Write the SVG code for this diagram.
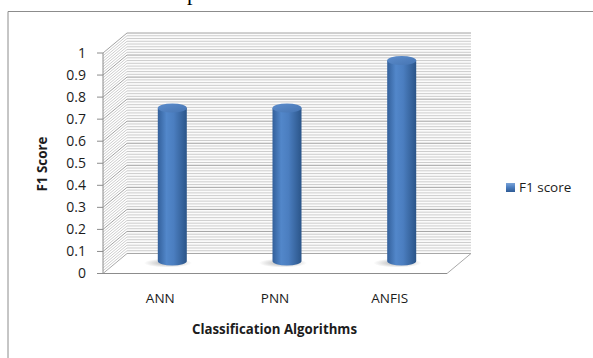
<svg xmlns="http://www.w3.org/2000/svg" width="593" height="358" viewBox="0 0 593 358">
<style>
  .lbl{font-family:"Open Sans","Liberation Sans",sans-serif;font-size:13.5px;fill:#1c1c1c}
  .tick{font-family:"Open Sans","Liberation Sans",sans-serif;font-size:14px;fill:#1c1c1c}
  .ttl{font-family:"Open Sans","Liberation Sans",sans-serif;font-size:13.5px;font-weight:bold;fill:#1c1c1c}
  .minor{fill:none;stroke:#cdcdcd;stroke-width:1}
  .major{fill:none;stroke:#a2a2a2;stroke-width:1}
  .axis{fill:none;stroke:#8c8c8c;stroke-width:1}
</style>
<defs>
  <linearGradient id="body" x1="0" y1="0" x2="1" y2="0">
    <stop offset="0" stop-color="#33609b"/>
    <stop offset="0.3" stop-color="#5287ca"/>
    <stop offset="0.55" stop-color="#4b7ec0"/>
    <stop offset="1" stop-color="#2b5589"/>
  </linearGradient>
  <linearGradient id="cap" x1="0" y1="0" x2="1" y2="1">
    <stop offset="0" stop-color="#5d8dcc"/>
    <stop offset="1" stop-color="#4574b2"/>
  </linearGradient>
  <radialGradient id="shadow" cx="0.5" cy="0.5" r="0.5">
    <stop offset="0" stop-color="#8a8a8a" stop-opacity="0.7"/>
    <stop offset="1" stop-color="#8a8a8a" stop-opacity="0"/>
  </radialGradient>
  <linearGradient id="legendFill" x1="0" y1="0" x2="0" y2="1">
    <stop offset="0" stop-color="#7aa3d8"/>
    <stop offset="0.5" stop-color="#4a7cbe"/>
    <stop offset="1" stop-color="#2f5b94"/>
  </linearGradient>
</defs>
<rect x="0" y="0" width="593" height="358" fill="#ffffff"/>
<text x="187" y="0" font-family="Liberation Serif,serif" font-size="22" fill="#000">p</text>
<path class="axis" d="M8,358V11.5H593"/>

<g id="plot-area">
  <polygon points="127,33 471,33 471,253.5 127,253.5" fill="#fbfbfb"/>
  <polygon points="103,53 127,33 127,253.5 103,273.5" fill="#ffffff"/>
  <path class="minor" d="M103,270.74l24,-20h344M103,267.99l24,-20h344M103,265.23l24,-20h344M103,262.48l24,-20h344M103,259.72l24,-20h344M103,256.96l24,-20h344M103,254.21l24,-20h344
M103,248.69l24,-20h344M103,245.94l24,-20h344M103,243.18l24,-20h344M103,240.43l24,-20h344M103,237.67l24,-20h344M103,234.91l24,-20h344M103,232.16l24,-20h344
M103,226.64l24,-20h344M103,223.89l24,-20h344M103,221.13l24,-20h344M103,218.38l24,-20h344M103,215.62l24,-20h344M103,212.86l24,-20h344M103,210.11l24,-20h344
M103,204.59l24,-20h344M103,201.84l24,-20h344M103,199.08l24,-20h344M103,196.33l24,-20h344M103,193.57l24,-20h344M103,190.81l24,-20h344M103,188.06l24,-20h344
M103,182.54l24,-20h344M103,179.79l24,-20h344M103,177.03l24,-20h344M103,174.28l24,-20h344M103,171.52l24,-20h344M103,168.76l24,-20h344M103,166.01l24,-20h344
M103,160.49l24,-20h344M103,157.74l24,-20h344M103,154.98l24,-20h344M103,152.23l24,-20h344M103,149.47l24,-20h344M103,146.71l24,-20h344M103,143.96l24,-20h344
M103,138.44l24,-20h344M103,135.69l24,-20h344M103,132.93l24,-20h344M103,130.18l24,-20h344M103,127.42l24,-20h344M103,124.66l24,-20h344M103,121.91l24,-20h344
M103,116.39l24,-20h344M103,113.64l24,-20h344M103,110.88l24,-20h344M103,108.13l24,-20h344M103,105.37l24,-20h344M103,102.61l24,-20h344M103,99.86l24,-20h344
M103,94.34l24,-20h344M103,91.59l24,-20h344M103,88.83l24,-20h344M103,86.08l24,-20h344M103,83.32l24,-20h344M103,80.56l24,-20h344M103,77.81l24,-20h344
M103,72.29l24,-20h344M103,69.54l24,-20h344M103,66.78l24,-20h344M103,64.03l24,-20h344M103,61.27l24,-20h344M103,58.51l24,-20h344M103,55.76l24,-20h344"/>
  <path class="major" d="M103,251.45l24,-20h344M103,229.4l24,-20h344M103,207.35l24,-20h344M103,185.3l24,-20h344M103,163.25l24,-20h344M103,141.2l24,-20h344M103,119.15l24,-20h344M103,97.1l24,-20h344M103,75.05l24,-20h344M103,53l24,-20h344"/>
  <polygon points="103,273.5 447,273.5 471,253.5 127,253.5" fill="#ffffff" stroke="#a8a8a8" stroke-width="1"/>
  <path class="axis" d="M103,53V273.5H447M97,53H103M97,75.05H103M97,97.1H103M97,119.15H103M97,141.2H103M97,163.25H103M97,185.3H103M97,207.35H103M97,229.4H103M97,251.45H103M97,273.5H103"/>
</g>

<g id="y-labels" class="tick" text-anchor="end">
  <text x="86" y="58">1</text>
  <text x="86" y="80">0.9</text>
  <text x="86" y="102">0.8</text>
  <text x="86" y="124">0.7</text>
  <text x="86" y="146">0.6</text>
  <text x="86" y="168">0.5</text>
  <text x="86" y="190">0.4</text>
  <text x="86" y="212">0.3</text>
  <text x="86" y="234">0.2</text>
  <text x="86" y="256">0.1</text>
  <text x="86" y="278">0</text>
</g>

<g id="bar-ANN">
  <ellipse cx="168" cy="263" rx="24" ry="4.5" fill="url(#shadow)"/>
  <path d="M157.8,108V261A14.5,4.5 0 0 0 186.8,261V108Z" fill="url(#body)"/>
  <ellipse cx="172.3" cy="108" rx="14.5" ry="4.5" fill="url(#cap)"/>
</g>
<g id="bar-PNN">
  <ellipse cx="283" cy="263" rx="24" ry="4.5" fill="url(#shadow)"/>
  <path d="M272.5,108V261A14.5,4.5 0 0 0 301.5,261V108Z" fill="url(#body)"/>
  <ellipse cx="287" cy="108" rx="14.5" ry="4.5" fill="url(#cap)"/>
</g>
<g id="bar-ANFIS">
  <ellipse cx="397.5" cy="263" rx="24" ry="4.5" fill="url(#shadow)"/>
  <path d="M387.2,60.5V261A14.5,4.5 0 0 0 416.2,261V60.5Z" fill="url(#body)"/>
  <ellipse cx="401.7" cy="60.5" rx="14.5" ry="4.5" fill="url(#cap)"/>
</g>

<g id="x-labels" class="lbl" text-anchor="middle">
  <text x="160.3" y="303">ANN</text>
  <text x="275" y="303">PNN</text>
  <text x="389.7" y="303">ANFIS</text>
</g>

<g id="axis-titles">
  <text class="ttl" x="274.5" y="334" text-anchor="middle" textLength="165" lengthAdjust="spacingAndGlyphs">Classification  Algorithms</text>
  <text class="ttl" transform="translate(47,164) rotate(-90)" text-anchor="middle" textLength="55" lengthAdjust="spacingAndGlyphs">F1 Score</text>
</g>

<g id="legend">
  <rect x="506" y="183" width="9" height="9" fill="url(#legendFill)"/>
  <text class="lbl" x="519" y="192" font-size="14">F1 score</text>
</g>
</svg>
